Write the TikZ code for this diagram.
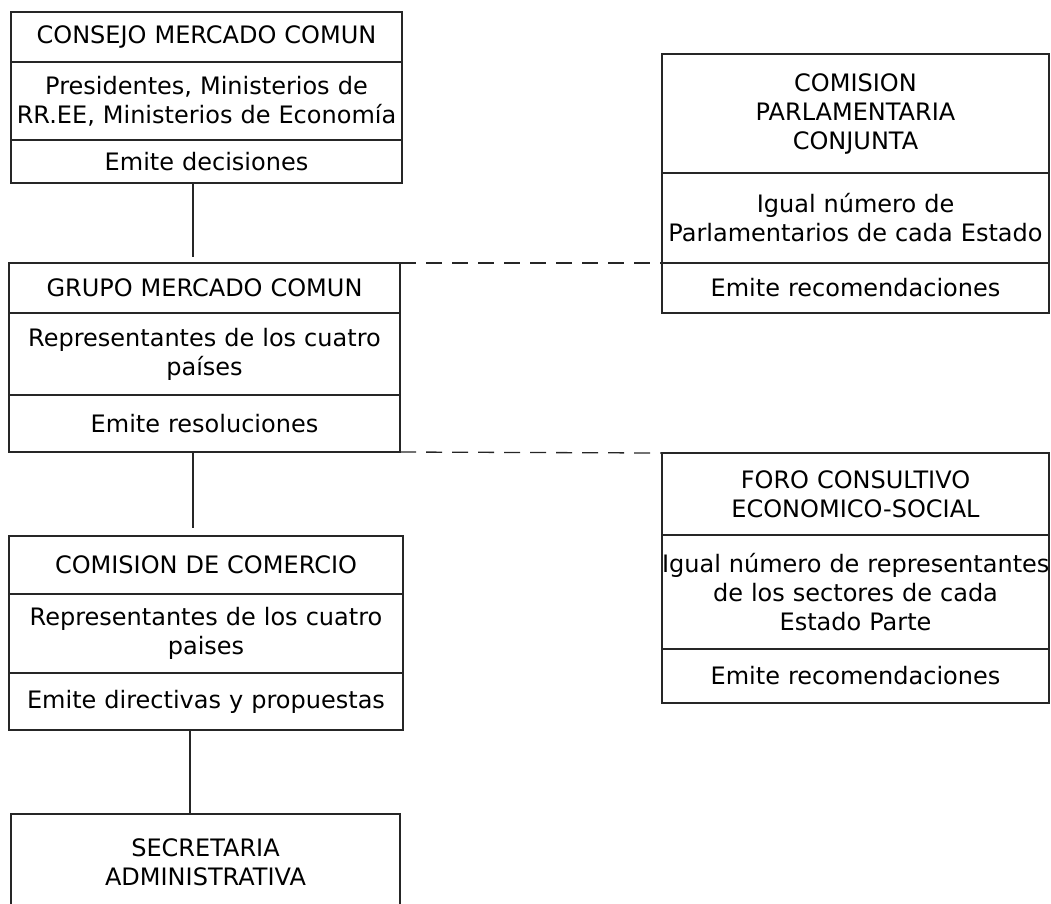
\documentclass[tikz,border=0pt]{standalone}
\usepackage{fontspec}
\newfontfamily\orgfont{DejaVu Sans}
\usetikzlibrary{positioning}
\tikzset{>=latex}
\tikzset{
  orgrow/.style={draw=black!85, line width=1.3pt, text width=#1, align=center, inner xsep=0pt, inner ysep=0pt, outer sep=0pt, font=\orgfont\fontsize{24}{29}\selectfont},
  link/.style={draw=black!85, line width=1.3pt},
  dashlink/.style={link, dash pattern=on 16pt off 10pt},
}

\begin{document}
\begin{tikzpicture}[x=1pt,y=-1pt]
    \useasboundingbox (0,0) rectangle (1051,903);
    \clip (0,0) rectangle (1051,903);

    % left column
    \node[orgrow=391pt, minimum height=50pt, anchor=north west] (cmc1) at (11,12) {CONSEJO MERCADO COMUN};
    \node[orgrow=391pt, minimum height=78pt, below=0pt of cmc1] (cmc2) {Presidentes, Ministerios de\\RR.EE, Ministerios de Economía};
    \node[orgrow=391pt, minimum height=43pt, below=0pt of cmc2] (cmc3) {Emite decisiones};

    \node[orgrow=391pt, minimum height=50pt, anchor=north west] (gmc1) at (9,263) {GRUPO MERCADO COMUN};
    \node[orgrow=391pt, minimum height=82pt, below=0pt of gmc1] (gmc2) {Representantes de los cuatro\\países};
    \node[orgrow=391pt, minimum height=57pt, below=0pt of gmc2] (gmc3) {Emite resoluciones};

    \node[orgrow=394pt, minimum height=58pt, anchor=north west] (cc1) at (9,536) {COMISION DE COMERCIO};
    \node[orgrow=394pt, minimum height=79pt, below=0pt of cc1] (cc2) {Representantes de los cuatro\\paises};
    \node[orgrow=394pt, minimum height=57pt, below=0pt of cc2] (cc3) {Emite directivas y propuestas};

    \node[orgrow=389pt, minimum height=96pt, anchor=north west] (sa) at (11,814) {SECRETARIA\\ADMINISTRATIVA};

    % right column
    \node[orgrow=387pt, minimum height=119pt, anchor=north west] (cpc1) at (662,54) {COMISION\\PARLAMENTARIA\\CONJUNTA};
    \node[orgrow=387pt, minimum height=90pt, below=0pt of cpc1] (cpc2) {Igual número de\\Parlamentarios de cada Estado};
    \node[orgrow=387pt, minimum height=50pt, below=0pt of cpc2] (cpc3) {Emite recomendaciones};

    \node[orgrow=387pt, minimum height=82pt, anchor=north west] (fces1) at (662,453) {FORO CONSULTIVO\\ECONOMICO-SOCIAL};
    \node[orgrow=387pt, minimum height=114pt, below=0pt of fces1] (fces2) {\mbox{Igual número de representantes}\\de los sectores de cada\\Estado Parte};
    \node[orgrow=387pt, minimum height=54pt, below=0pt of fces2] (fces3) {Emite recomendaciones};

    % connectors
    \draw[link, shorten >=6pt] ([xshift=-13.5pt]cmc3.south) -- ([xshift=-13.5pt]cmc3.south |- gmc1.north);
    \draw[link, shorten >=8pt] ([xshift=-11.5pt]gmc3.south) -- ([xshift=-11.5pt]gmc3.south |- cc1.north);
    \draw[link] ([xshift=-16pt]cc3.south) -- ([xshift=-16pt]cc3.south |- sa.north);
    \draw[dashlink] (gmc1.north east) -- (cpc3.north west);
    \draw[dashlink] (gmc3.south east) -- (fces1.north west);
\end{tikzpicture}
\end{document}
